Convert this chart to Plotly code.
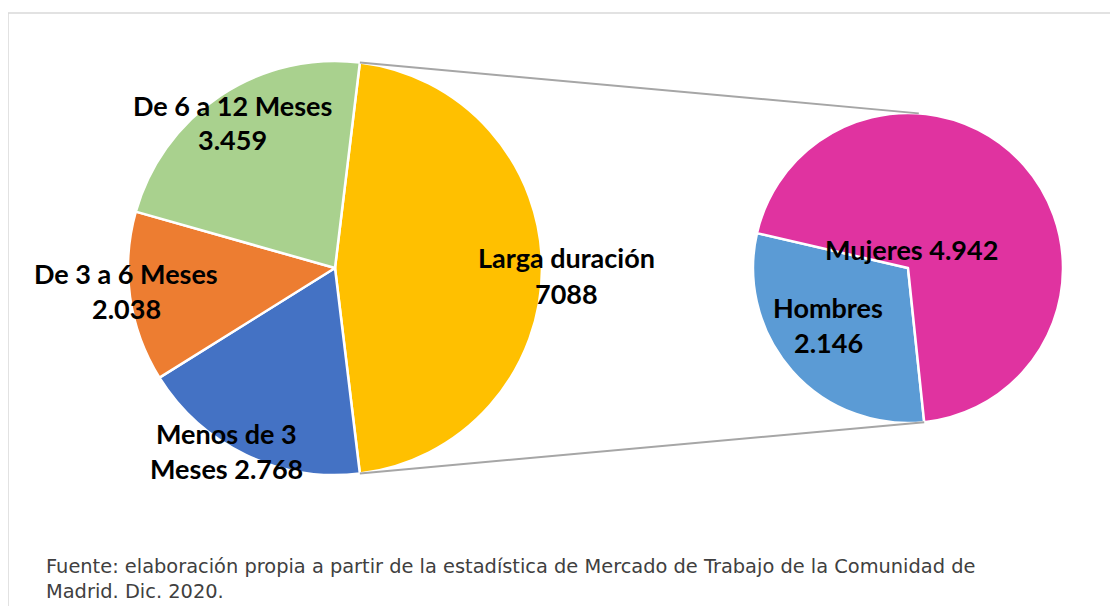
import math
import plotly.graph_objects as go

# page body has an 8px margin: reference pixel (x, y) -> figure pixel (x-8, y-8)
OFF = 8
W, H = 1118 - OFF, 606 - OFF

# ---- data ----
main_labels = ["Larga duración", "Menos de 3 Meses", "De 3 a 6 Meses", "De 6 a 12 Meses"]
main_values = [7088, 2768, 2038, 3459]
main_colors = ["#FFC000", "#4472C4", "#ED7D31", "#A9D18E"]

sub_labels = ["Hombres", "Mujeres"]
sub_values = [2146, 4942]
sub_colors = ["#5B9BD5", "#E033A0"]

# label line layout ({v} = formatted value); thousands separator flag
main_label_lines = [["Larga duración", "{v}"], ["Menos de 3", "Meses {v}"],
                    ["De 3 a 6 Meses", "{v}"], ["De 6 a 12 Meses", "{v}"]]
main_sep = [False, True, True, True]
sub_label_lines = [["Hombres", "{v}"], ["Mujeres {v}"]]
sub_sep = [True, True]

source = ("Fuente: elaboración propia a partir de la estadística de Mercado de Trabajo de la Comunidad de"
          "<br>Madrid. Dic. 2020.")


def fmt(v, sep):
    s = f"{v:,}"
    return s.replace(",", ".") if sep else s.replace(",", "")


# ---- geometry (reference pixels) ----
L_cx, L_cy, L_r = 335, 268, 207
R_cx, R_cy, R_r = 908, 268, 155


def px2paper(x, y):
    return (x - OFF) / W, 1 - (y - OFF) / H


def dom(cx, cy, r):
    x0, y1 = px2paper(cx - r, cy - r)
    x1, y0 = px2paper(cx + r, cy + r)
    return dict(x=[x0, x1], y=[y0, y1])


frac_other = main_values[0] / sum(main_values)
rot_main = 90 - frac_other * 180  # centre "other" slice at 3 o'clock
rot_sub = 174

fig = go.Figure()
fig.add_trace(go.Pie(labels=main_labels, values=main_values, sort=False, direction="clockwise",
                     rotation=rot_main, marker=dict(colors=main_colors, line=dict(color="white", width=2.5)),
                     textinfo="none", hoverinfo="label+value", domain=dom(L_cx, L_cy, L_r), showlegend=False))
fig.add_trace(go.Pie(labels=sub_labels, values=sub_values, sort=False, direction="clockwise",
                     rotation=rot_sub, marker=dict(colors=sub_colors, line=dict(color="white", width=2.5)),
                     textinfo="none", hoverinfo="label+value", domain=dom(R_cx, R_cy, R_r), showlegend=False))

# label positions (reference pixel centres of first line) and line spacing
main_pos = [(566, 258), (226, 433), (126, 273), (232, 105)]
sub_pos = [(828, 307), (911, 250)]
LINE = 35
lab_font = dict(family="Lato", size=27, color="black", weight="bold")

annotations = []
for lines, v, sep, (x, y) in list(zip(main_label_lines, main_values, main_sep, main_pos)) + \
        list(zip(sub_label_lines, sub_values, sub_sep, sub_pos)):
    for i, ln in enumerate(lines):
        xp, yp = px2paper(x, y + i * LINE)
        annotations.append(dict(text=ln.format(v=fmt(v, sep)), x=xp, y=yp, xref="paper", yref="paper",
                                xanchor="center", yanchor="middle", showarrow=False, font=lab_font))

sx, sy = px2paper(44, 579)
annotations.append(dict(text=source, x=sx, y=sy, xref="paper", yref="paper", xanchor="left",
                        yanchor="middle", align="left", showarrow=False,
                        font=dict(family="DejaVu Sans", size=19.4, color="#404040")))

# connector lines from main pie's "other" slice edges to the sub pie
a_top = math.radians(90 - rot_main)
a_bot = math.radians(-(90 - rot_main))
p1 = (L_cx + L_r * math.cos(a_top), L_cy - L_r * math.sin(a_top))
p2 = (L_cx + L_r * math.cos(a_bot), L_cy - L_r * math.sin(a_bot))
b_top = math.radians(86)
b_bot = math.radians(90 - rot_sub)
q1 = (R_cx + R_r * math.cos(b_top), R_cy - R_r * math.sin(b_top))
q2 = (R_cx + R_r * math.cos(b_bot), R_cy - R_r * math.sin(b_bot))

shapes = []
for a, b in [(p1, q1), (p2, q2)]:
    x0, y0 = px2paper(*a)
    x1, y1 = px2paper(*b)
    shapes.append(dict(type="line", xref="paper", yref="paper", x0=x0, y0=y0, x1=x1, y1=y1,
                       line=dict(color="#A6A6A6", width=2)))

# chart frame
fx0, fy0 = px2paper(8, 13)
fx1, fy1 = px2paper(1140, 640)
shapes.append(dict(type="rect", xref="paper", yref="paper", x0=fx0, y0=fy1, x1=fx1, y1=fy0,
                   line=dict(color="#D9D9D9", width=1.5), layer="below"))

fig.update_layout(width=W, height=H, margin=dict(l=0, r=0, t=0, b=0), paper_bgcolor="white",
                  plot_bgcolor="white", annotations=annotations, shapes=shapes)

fig.write_html("out.html", config={"displayModeBar": False})
